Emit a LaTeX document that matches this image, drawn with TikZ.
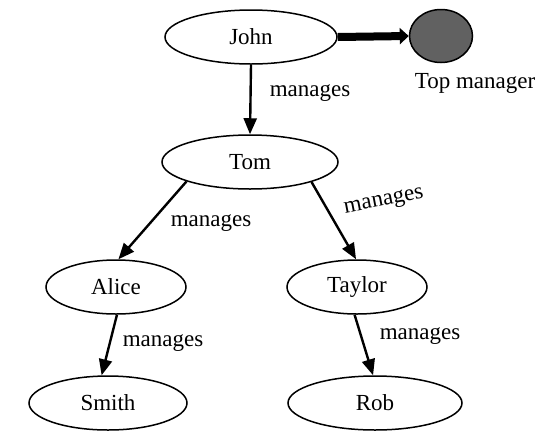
\documentclass[tikz,border=0pt]{standalone}
\usepackage{fontspec}
\setmainfont{Liberation Serif}
\usetikzlibrary{shapes.geometric,arrows.meta}
\begin{document}
\begin{tikzpicture}[x=1pt,y=-1pt,
  every node/.style={font=\fontsize{23}{27}\selectfont},
  person/.style={ellipse,draw,line width=1.5pt,inner sep=0pt,fill=white},
  rel/.style={-{Triangle[length=16pt,width=13pt]},line width=2.4pt},
  lbl/.style={inner sep=0pt}]
\useasboundingbox (0,0) rectangle (536,432);
% people
\node[person,minimum width=172pt,minimum height=54pt] (john) at (251,37) {John};
\node[person,minimum width=176pt,minimum height=54pt] (tom) at (250,162) {Tom};
\node[person,minimum width=140pt,minimum height=54pt] (alice) at (116,287) {Alice};
\node[person,minimum width=140pt,minimum height=54pt] (taylor) at (357,287) {Taylor};
\node[person,minimum width=158pt,minimum height=54pt] (smith) at (108,403) {Smith};
\node[person,minimum width=174pt,minimum height=54pt] (rob) at (375,403) {Rob};
% top manager marker
\node[ellipse,draw,line width=1.5pt,fill=black!62,minimum width=63pt,minimum height=53pt,inner sep=0pt] (top) at (441,36) {};
\node[lbl] (toplbl) at (475,83) {Top manager};
% links
\draw[line width=8pt,-{Triangle[length=9pt,width=16pt]}] (john.east) -- (top.west);
\draw[rel] (john.south) -- (tom.north);
\draw[rel] (tom.197) -- (alice.85);
\draw[rel] (tom.342) -- (taylor.92);
\draw[rel] (alice.272) -- (smith.103);
\draw[rel] (taylor.265) -- (rob.94);
% edge labels
\node[lbl] (l1) at (310,93) {manages};
\node[lbl] (l2) at (211,223) {manages};
\node[lbl,rotate=11] (l3) at (384,202) {manages};
\node[lbl] (l4) at (163,343) {manages};
\node[lbl] (l5) at (420,336) {manages};
\end{tikzpicture}
\end{document}
